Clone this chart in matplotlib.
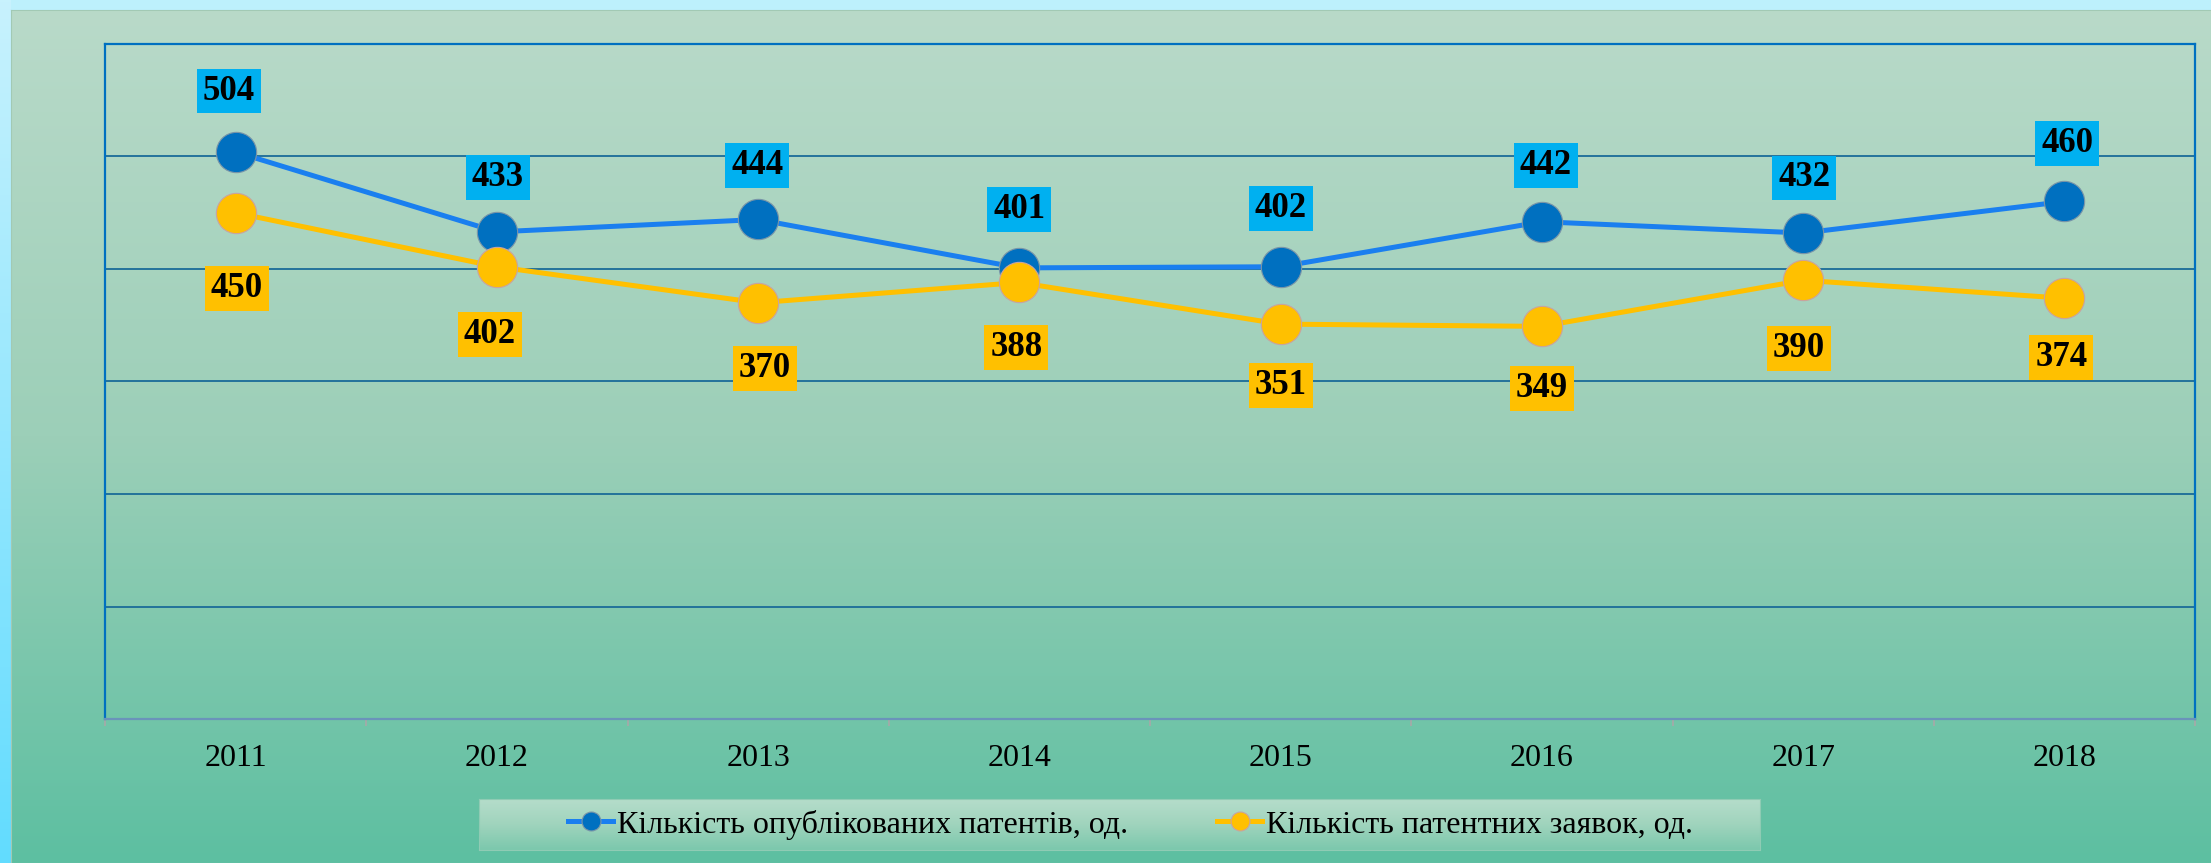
import numpy as np
import matplotlib
matplotlib.use('Agg')
import matplotlib.pyplot as plt
from matplotlib.colors import LinearSegmentedColormap

# Data
years = ['2011', '2012', '2013', '2014', '2015', '2016', '2017', '2018']
published_patents = [504, 433, 444, 401, 402, 442, 432, 460]
patent_applications = [450, 402, 370, 388, 351, 349, 390, 374]
series_names = ['Кількість опублікованих патентів, од.', 'Кількість патентних заявок, од.']

# label placement (pixel offsets from the marker), as in the reference
blue_dx = [-7, 1, -1, 0, 0, 4, 1, 3]
blue_dy = [61, 54, 54, 58, 58, 56, 55, 58]
orange_dx = [1, -7, 7, -3, 0, 0, -4, -3]
orange_dy = [76, 68, 66, 65, 61, 62, 68, 59]

plt.rcParams['font.family'] = ['Liberation Serif', 'DejaVu Serif']

W, H = 2211, 863
fig = plt.figure(figsize=(W / 100, H / 100), dpi=100)
fig.patch.set_facecolor('#bdf0fc')
px = 0.72  # points per pixel at dpi 100

# light cyan strip on the left
strip = fig.add_axes([0, 0, 11 / W, 1])
strip.imshow(np.linspace(0, 1, 256).reshape(-1, 1), aspect='auto',
             cmap=LinearSegmentedColormap.from_list('s', ['#c8f2fd', '#62dcff']),
             extent=[0, 1, 0, 1])
strip.axis('off')

# green gradient panel behind the chart
panel = fig.add_axes([11 / W, 0, 1 - 11 / W, (H - 10) / H])
panel.imshow(np.linspace(0, 1, 256).reshape(-1, 1), aspect='auto',
             cmap=LinearSegmentedColormap.from_list('g', ['#b9dac9', '#9ccfb8', '#5dbfa1']),
             extent=[0, 1, 0, 1])
panel.set_xticks([])
panel.set_yticks([])
for s in panel.spines.values():
    s.set_color('#a2c9b4')

# main plot area
ax = fig.add_axes([105 / W, (H - 719) / H, (2195 - 105) / W, (719 - 44) / H])
ax.patch.set_alpha(0)

x = np.arange(len(years)) + 0.5
ax.plot(x, published_patents, color='#1a7fef', lw=3.6, marker='o', ms=29,
        mfc='#0070c0', mec='#7a95a8', mew=0.8, zorder=3, label=series_names[0])
ax.plot(x, patent_applications, color='#ffc000', lw=3.6, marker='o', ms=29,
        mfc='#ffc000', mec='#c9a3a0', mew=0.8, zorder=4, label=series_names[1])

# data labels in coloured boxes
for xi, v, dx, dy in zip(x, published_patents, blue_dx, blue_dy):
    ax.annotate(str(v), (xi, v), xytext=(dx * px, dy * px), textcoords='offset points',
                ha='center', va='center', fontsize=25, fontweight='bold',
                bbox=dict(boxstyle='square,pad=0.17', fc='#00b0f0', ec='none'), zorder=5)
for xi, v, dx, dy in zip(x, patent_applications, orange_dx, orange_dy):
    ax.annotate(str(v), (xi, v), xytext=(dx * px, -dy * px), textcoords='offset points',
                ha='center', va='center', fontsize=25, fontweight='bold',
                bbox=dict(boxstyle='square,pad=0.17', fc='#ffc000', ec='none'), zorder=5)

ax.set_xlim(0, len(years))
ax.set_ylim(0, 600)
ax.set_yticks(range(0, 601, 100))
ax.set_yticklabels([])
ax.tick_params(axis='y', length=0)
ax.grid(axis='y', color='#1a6b98', lw=1.3)
ax.set_axisbelow(True)

ax.set_xticks(range(len(years) + 1))
ax.set_xticklabels([])
ax.tick_params(axis='x', which='major', length=5, color='#a8a8a8', width=1.2)
ax.set_xticks(x, minor=True)
ax.set_xticklabels(years, minor=True, fontsize=23)
ax.tick_params(axis='x', which='minor', length=0, pad=18)

for side in ['left', 'top', 'right']:
    ax.spines[side].set_color('#0070c0')
    ax.spines[side].set_linewidth(1.6)
ax.spines['bottom'].set_color('#6a93ba')
ax.spines['bottom'].set_linewidth(1.6)

# legend box with its own gradient
lx0, lx1, ly0, ly1 = 479, 1760, 799, 850
lax = fig.add_axes([lx0 / W, (H - ly1) / H, (lx1 - lx0) / W, (ly1 - ly0) / H])
lax.imshow(np.linspace(0, 1, 64).reshape(-1, 1), aspect='auto',
           cmap=LinearSegmentedColormap.from_list('l', ['#b6ddcb', '#a0d4bd', '#7cc8ad']),
           extent=[0, 1, 0, 1])
lax.set_xticks([])
lax.set_yticks([])
for s in lax.spines.values():
    s.set_color('#8fcbb4')

handles, labels = ax.get_legend_handles_labels()
fig.legend(handles, labels, loc='center', ncol=2, frameon=False, fontsize=23,
           bbox_to_anchor=((lx0 + lx1) / 2 / W + 11 / W, 1 - (ly0 + ly1) / 2 / H),
           handlelength=1.4, handletextpad=0.12, columnspacing=2.8, markerscale=0.47)

plt.savefig('out.png', dpi=100, facecolor=fig.get_facecolor())
